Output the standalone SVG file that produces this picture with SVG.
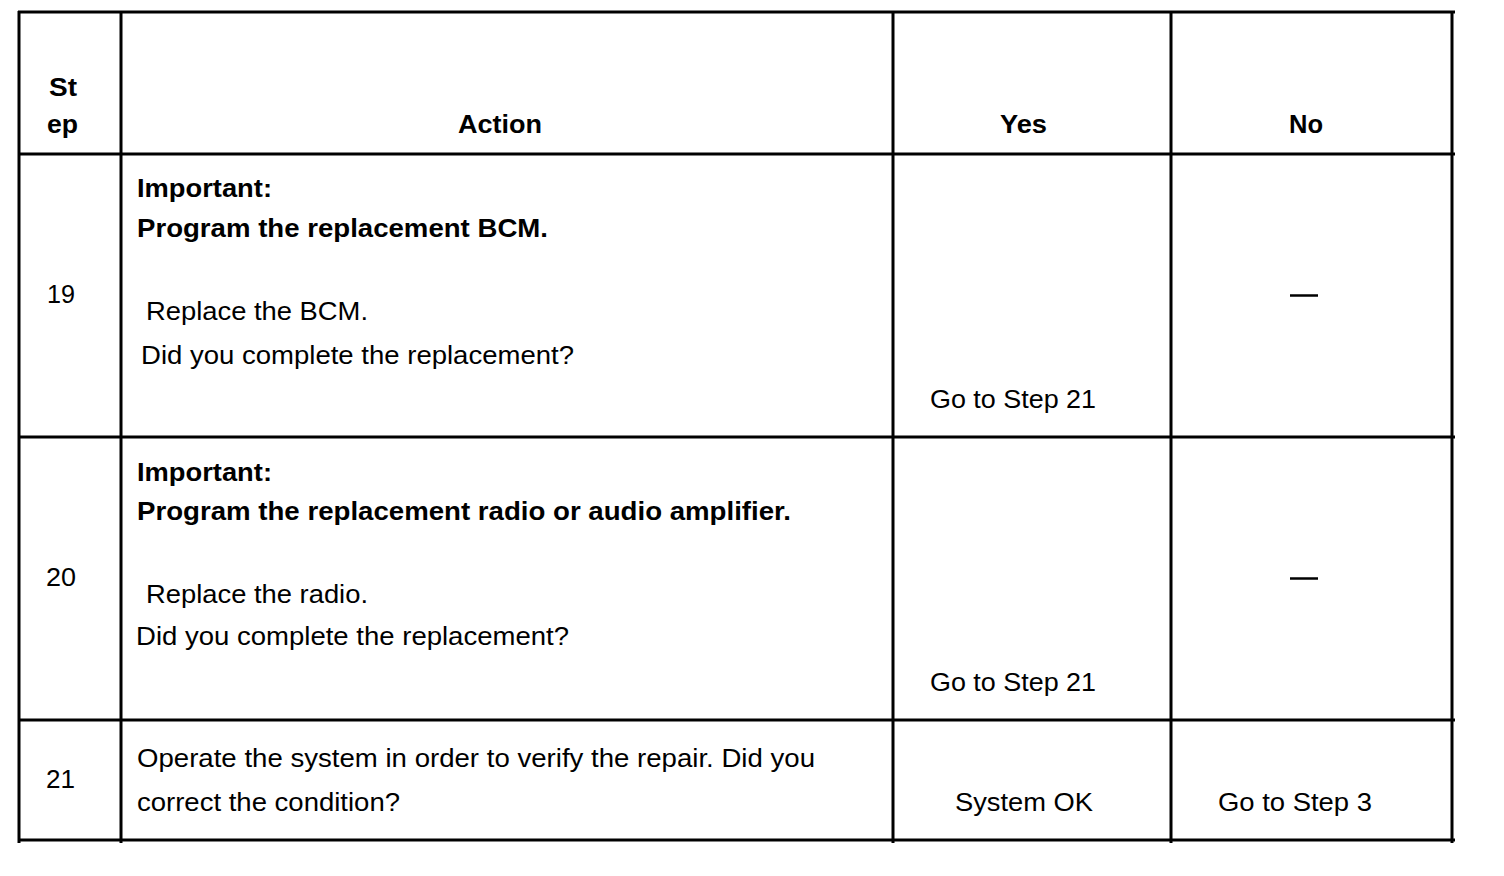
<svg xmlns="http://www.w3.org/2000/svg" width="1504" height="876" viewBox="0 0 1504 876">
<style>
.t{font-family:"Liberation Sans",Arial,sans-serif;font-size:25px;fill:#000}
.b{font-weight:bold}
.ln{stroke:#000;stroke-width:3;fill:none}
</style>
<rect width="1504" height="876" fill="#fff"/>
<g id="grid">
<line class="ln" x1="18" y1="12" x2="1455" y2="12"/>
<line class="ln" x1="18" y1="154" x2="1455" y2="154"/>
<line class="ln" x1="18" y1="437" x2="1455" y2="437"/>
<line class="ln" x1="18" y1="720" x2="1455" y2="720"/>
<line class="ln" x1="18" y1="840" x2="1455" y2="840"/>
<line class="ln" x1="19" y1="11" x2="19" y2="843"/>
<line class="ln" x1="121" y1="11" x2="121" y2="843"/>
<line class="ln" x1="893" y1="11" x2="893" y2="843"/>
<line class="ln" x1="1171" y1="11" x2="1171" y2="843"/>
<line class="ln" x1="1452" y1="11" x2="1452" y2="843"/>
</g>
<g id="header">
<text class="t b" x="49" y="96" textLength="28" lengthAdjust="spacingAndGlyphs">St</text>
<text class="t b" x="47" y="133" textLength="31" lengthAdjust="spacingAndGlyphs">ep</text>
<text class="t b" x="458" y="133" textLength="84" lengthAdjust="spacingAndGlyphs">Action</text>
<text class="t b" x="1000" y="133" textLength="47" lengthAdjust="spacingAndGlyphs">Yes</text>
<text class="t b" x="1289" y="133" textLength="34" lengthAdjust="spacingAndGlyphs">No</text>
</g>
<g id="row19">
<text class="t" x="47" y="303" textLength="28" lengthAdjust="spacingAndGlyphs">19</text>
<text class="t b" x="137" y="197" textLength="135" lengthAdjust="spacingAndGlyphs">Important:</text>
<text class="t b" x="137" y="237" textLength="411" lengthAdjust="spacingAndGlyphs">Program the replacement BCM.</text>
<text class="t" x="146" y="320" textLength="222" lengthAdjust="spacingAndGlyphs">Replace the BCM.</text>
<text class="t" x="141" y="364" textLength="433" lengthAdjust="spacingAndGlyphs">Did you complete the replacement?</text>
<text class="t" x="930" y="408" textLength="166" lengthAdjust="spacingAndGlyphs">Go to Step 21</text>
<line x1="1290" y1="295.5" x2="1318" y2="295.5" stroke="#000" stroke-width="2.5"/>
</g>
<g id="row20">
<text class="t" x="46" y="586" textLength="30" lengthAdjust="spacingAndGlyphs">20</text>
<text class="t b" x="137" y="481" textLength="135" lengthAdjust="spacingAndGlyphs">Important:</text>
<text class="t b" x="137" y="520" textLength="654" lengthAdjust="spacingAndGlyphs">Program the replacement radio or audio amplifier.</text>
<text class="t" x="146" y="603" textLength="222" lengthAdjust="spacingAndGlyphs">Replace the radio.</text>
<text class="t" x="136" y="645" textLength="433" lengthAdjust="spacingAndGlyphs">Did you complete the replacement?</text>
<text class="t" x="930" y="691" textLength="166" lengthAdjust="spacingAndGlyphs">Go to Step 21</text>
<line x1="1290" y1="578.5" x2="1318" y2="578.5" stroke="#000" stroke-width="2.5"/>
</g>
<g id="row21">
<text class="t" x="46" y="788" textLength="29" lengthAdjust="spacingAndGlyphs">21</text>
<text class="t" x="137" y="767" textLength="678" lengthAdjust="spacingAndGlyphs">Operate the system in order to verify the repair. Did you</text>
<text class="t" x="137" y="811" textLength="263" lengthAdjust="spacingAndGlyphs">correct the condition?</text>
<text class="t" x="955" y="811" textLength="138" lengthAdjust="spacingAndGlyphs">System OK</text>
<text class="t" x="1218" y="811" textLength="154" lengthAdjust="spacingAndGlyphs">Go to Step 3</text>
</g>
</svg>
